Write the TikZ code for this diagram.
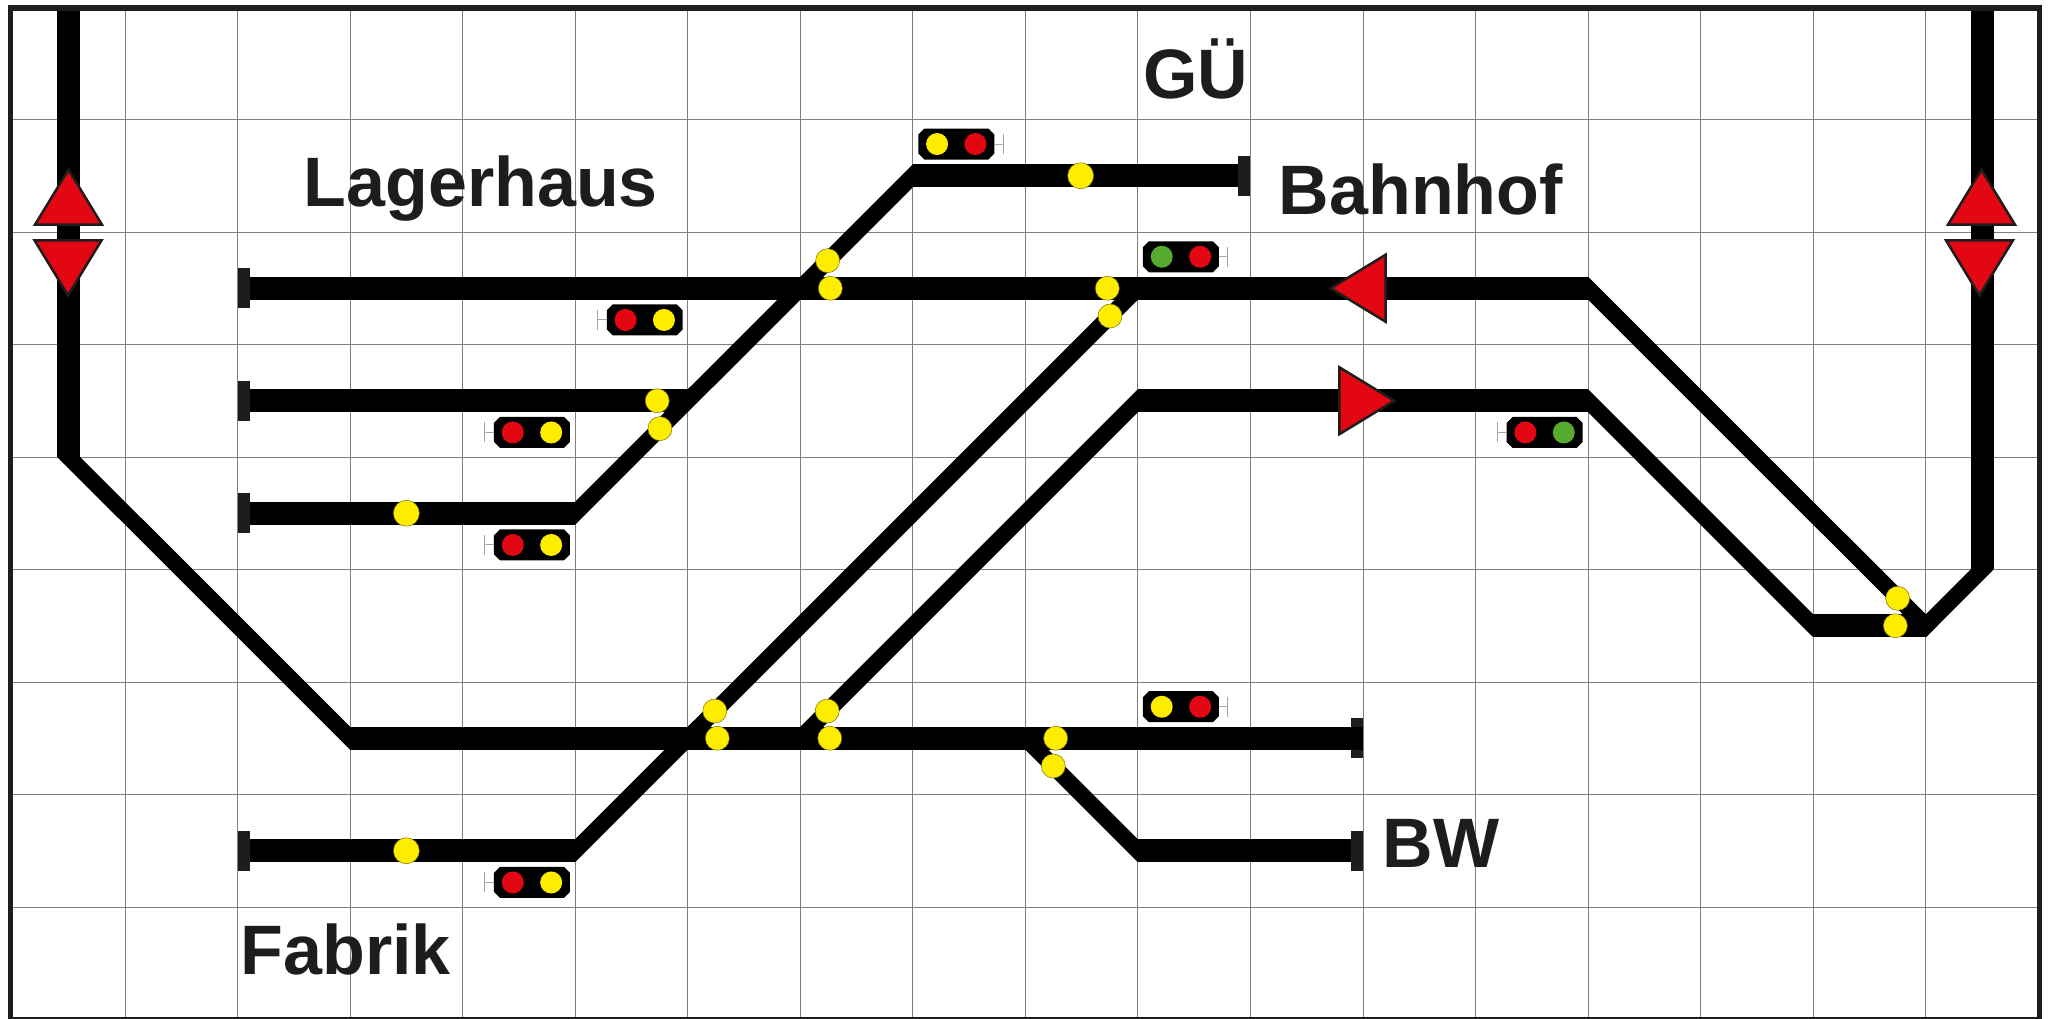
\documentclass[tikz,border=0pt]{standalone}
\usepackage{fontspec}
\setmainfont{Liberation Sans}
\usepackage{tikz}
\usetikzlibrary{positioning}

\definecolor{inkdark}{HTML}{1D1D1B}
\definecolor{gridgrey}{HTML}{857B78}
\definecolor{stubgrey}{HTML}{A8A6A4}
\definecolor{lampyellow}{HTML}{FFED00}
\definecolor{lampred}{HTML}{E30613}
\definecolor{lampgreen}{HTML}{56AA2F}

\tikzset{
	gridline/.style = {gridgrey,line width = .9pt},
	outline/.style = {inkdark,line width = 5.5pt},
	track/.style = {black,line width = 23pt},
	diagtrack/.style = {black,line width = 16.26pt,shorten < = -8.13pt,shorten > = -8.13pt},
	buffer/.style = {fill = inkdark,rectangle,inner sep = 0pt,outer sep = 0pt,minimum width = 12pt,minimum height = 40pt},
	switchlamp/.style = {fill = lampyellow,draw = inkdark!60!lampyellow,line width = .5pt,circle,inner sep = 0pt,minimum size = 24pt},
	biglamp/.style = {switchlamp,minimum size = 26pt},
	sigbox/.style = {rectangle,inner sep = 0pt,outer sep = 0pt,minimum width = 76pt,minimum height = 31pt},
	siglamp/.style = {circle,inner sep = 0pt,minimum size = 22pt},
	stub/.style = {stubgrey,line width = 1pt},
	dirtri/.style = {fill = lampred,draw = inkdark,line width = 2.5pt,miter limit = 10},
	placename/.style = {inkdark,font = \bfseries\fontsize{70}{84}\selectfont,anchor = base west,inner sep = 0pt}
}

% name, position, left lamp, right lamp, stub side, stub length
\newcommand{\signal}[6]{
	\node[sigbox] (#1) at (#2) {};
	\fill[black] ([xshift = 6pt]#1.north west) -- ([xshift = -6pt]#1.north east) -- ([yshift = -6pt]#1.north east)
		-- ([yshift = 6pt]#1.south east) -- ([xshift = -6pt]#1.south east) -- ([xshift = 6pt]#1.south west)
		-- ([yshift = 6pt]#1.south west) -- ([yshift = -6pt]#1.north west) -- cycle;
	\node[siglamp,fill = #3] (#1l) at ([xshift = -19.2pt]#1.center) {};
	\node[siglamp,fill = #4] (#1r) at ([xshift = 19.2pt]#1.center) {};
	\draw[stub] (#1.#5) -- ++(#6,0) ++(0,-10pt) -- ++(0,20pt);
}
% position of base centre, rotation
\newcommand{\dirmark}[2]{
	\draw[dirtri,shift = {(#1)},rotate = #2] (-33.5pt,0) -- (0,55pt) -- (33.5pt,0) -- cycle;
}

\begin{document}
\begin{tikzpicture}[x = 112.55pt,y = -112.5pt]
	\useasboundingbox (-.1106,-.0622) rectangle (18.095,8.9956);
	\foreach \col in {1,...,17} {
		\draw[gridline] (\col,0) -- (\col,9);
	}
	\foreach \row in {1,...,8} {
		\draw[gridline] (0,\row) -- (18,\row);
	}

	% buffer stops
	\node[buffer,anchor = west] (lager) at (2,2.5) {};
	\node[buffer,anchor = west] (lagermid) at (2,3.5) {};
	\node[buffer,anchor = west] (lagerlow) at (2,4.5) {};
	\node[buffer,anchor = west] (fabrik) at (2,7.5) {};
	\node[buffer,anchor = east] (gue) at (11,1.5) {};
	\node[buffer,anchor = east] (lower) at (12,6.5) {};
	\node[buffer,anchor = east] (bw) at (12,7.5) {};

	% track corners
	\coordinate (lefttop) at (.5,0);
	\coordinate (leftbend) at (.5,4);
	\coordinate (lowbend) at (3,6.5);
	\coordinate (gueleft) at (8,1.5);
	\coordinate (lagerbend) at (5,4.5);
	\coordinate (midend) at (6,3.5);
	\coordinate (fabbend) at (5,7.5);
	\coordinate (upjoin) at (10,2.5);
	\coordinate (upbend) at (14,2.5);
	\coordinate (secjoin) at (7,6.5);
	\coordinate (secbend) at (10,3.5);
	\coordinate (secright) at (14,3.5);
	\coordinate (loopleft) at (16,5.5);
	\coordinate (loopright) at (17,5.5);
	\coordinate (rightbend) at (17.5,5);
	\coordinate (righttop) at (17.5,0);
	\coordinate (bwjoin) at (9,6.5);
	\coordinate (bwbend) at (10,7.5);

	\draw[track] (lefttop) -- (leftbend);
	\draw[diagtrack] (leftbend) -- (lowbend);
	\draw[track] (lowbend) -- (lower.east);
	\draw[track] (lager.east) -- (upbend);
	\draw[diagtrack] (upbend) -- (loopright);
	\draw[track] (lagermid.east) -- (midend);
	\draw[track] (lagerlow.east) -- (lagerbend);
	\draw[diagtrack] (lagerbend) -- (gueleft);
	\draw[track] (gueleft) -- (gue.west);
	\draw[track] (fabrik.east) -- (fabbend);
	\draw[diagtrack] (fabbend) -- (upjoin);
	\draw[diagtrack] (secjoin) -- (secbend);
	\draw[track] (secbend) -- (secright);
	\draw[diagtrack] (secright) -- (loopleft);
	\draw[track] (loopleft) -- (loopright);
	\draw[diagtrack] (loopright) -- (rightbend);
	\draw[track] (rightbend) -- (righttop);
	\draw[diagtrack] (bwjoin) -- (bwbend);
	\draw[track] (bwbend) -- (bw.west);

	% signals
	\signal{sigone}{8.386,1.218}{lampyellow}{lampred}{east}{9pt}
	\signal{sigtwo}{5.618,2.782}{lampred}{lampyellow}{west}{-9pt}
	\signal{sigthree}{10.382,2.22}{lampgreen}{lampred}{east}{9pt}
	\signal{sigfour}{4.616,3.782}{lampred}{lampyellow}{west}{-9pt}
	\signal{sigfive}{4.616,4.782}{lampred}{lampyellow}{west}{-9pt}
	\signal{sigsix}{13.613,3.782}{lampred}{lampgreen}{west}{-9pt}
	\signal{sigseven}{10.382,6.22}{lampyellow}{lampred}{east}{9pt}
	\signal{sigeight}{4.616,7.782}{lampred}{lampyellow}{west}{-9pt}

	% switch lamps
	\node[switchlamp] (sa) at (7.243,2.255) {};
	\node[switchlamp] (sb) at (7.267,2.5) {};
	\node[switchlamp] (sc) at (9.728,2.5) {};
	\node[switchlamp] (sd) at (9.752,2.747) {};
	\node[switchlamp] (se) at (16.75,5.256) {};
	\node[switchlamp] (sf) at (16.73,5.5) {};
	\node[switchlamp] (sg) at (9.269,6.5) {};
	\node[switchlamp] (sh) at (9.248,6.747) {};
	\node[biglamp] (si) at (9.491,1.5) {};
	\node[switchlamp] (sj) at (5.729,3.5) {};
	\node[switchlamp] (sk) at (5.753,3.748) {};
	\node[biglamp] (sl) at (3.5,4.5) {};
	\node[switchlamp] (sm) at (6.24,6.258) {};
	\node[switchlamp] (sn) at (6.263,6.5) {};
	\node[switchlamp] (so) at (7.239,6.258) {};
	\node[switchlamp] (sp) at (7.262,6.5) {};
	\node[biglamp] (sq) at (3.5,7.5) {};

	% direction marks
	\dirmark{.498,1.935}{0}
	\dirmark{.494,2.074}{180}
	\dirmark{17.495,1.935}{0}
	\dirmark{17.477,2.074}{180}
	\dirmark{12.201,2.5}{90}
	\dirmark{11.789,3.5}{-90}

	\draw[outline] (-.017,.009) rectangle (18.01,9.004);

	\node[placename] (gu) at (10.045,.813) {GÜ};
	\node[placename] (bahnhof) at (11.25,1.843) {Bahnhof};
	\node[placename] (lagerhaus) at (2.588,1.769) {Lagerhaus};
	\node[placename] (bwname) at (12.175,7.65) {BW};
	\node[placename] (fabrikname) at (2.026,8.602) {Fabrik};
\end{tikzpicture}
\end{document}
